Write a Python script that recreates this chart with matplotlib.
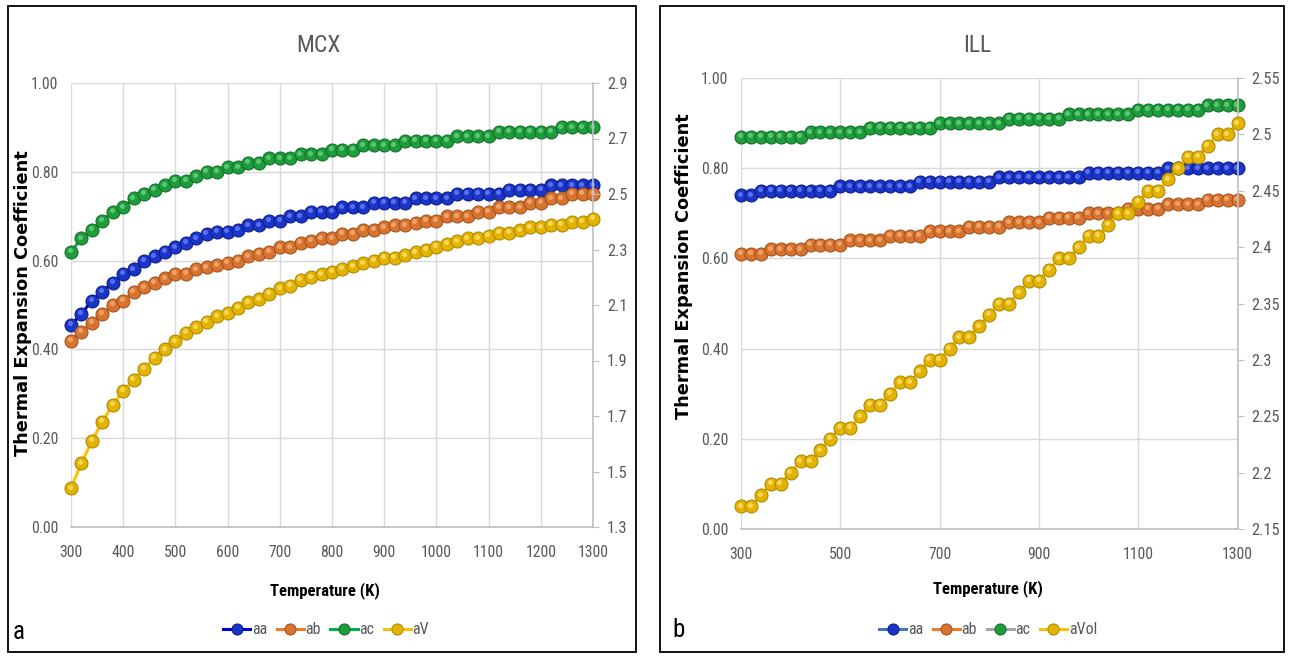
import numpy as np
import matplotlib
matplotlib.use("Agg")
import matplotlib.pyplot as plt
from matplotlib import font_manager
from matplotlib.font_manager import FontProperties
from matplotlib.patches import Rectangle
from matplotlib.lines import Line2D
import matplotlib.transforms as mtransforms

# ---------------- data ----------------
temps = np.arange(300, 1301, 20)

mcx_aa = [0.455, 0.48, 0.51, 0.53, 0.55, 0.57, 0.58, 0.60, 0.61, 0.62,
          0.63, 0.64, 0.65, 0.66, 0.665, 0.665, 0.67, 0.68, 0.68, 0.69,
          0.69, 0.70, 0.70, 0.71, 0.71, 0.71, 0.72, 0.72, 0.72, 0.73,
          0.73, 0.73, 0.73, 0.74, 0.74, 0.74, 0.74, 0.75, 0.75, 0.75,
          0.75, 0.75, 0.76, 0.76, 0.76, 0.76, 0.77, 0.77, 0.77, 0.77, 0.77]
mcx_ab = [0.42, 0.44, 0.46, 0.48, 0.50, 0.51, 0.53, 0.54, 0.55, 0.56,
          0.57, 0.57, 0.58, 0.585, 0.59, 0.595, 0.60, 0.61, 0.615, 0.62,
          0.63, 0.63, 0.64, 0.645, 0.65, 0.65, 0.66, 0.66, 0.67, 0.67,
          0.675, 0.68, 0.68, 0.685, 0.69, 0.69, 0.70, 0.70, 0.70, 0.71,
          0.71, 0.72, 0.72, 0.72, 0.73, 0.73, 0.74, 0.74, 0.75, 0.75, 0.75]
mcx_ac = [0.62, 0.65, 0.67, 0.69, 0.71, 0.72, 0.74, 0.75, 0.76, 0.77,
          0.78, 0.78, 0.79, 0.80, 0.80, 0.81, 0.81, 0.82, 0.82, 0.83,
          0.83, 0.83, 0.84, 0.84, 0.84, 0.85, 0.85, 0.85, 0.86, 0.86,
          0.86, 0.86, 0.87, 0.87, 0.87, 0.87, 0.87, 0.88, 0.88, 0.88,
          0.88, 0.89, 0.89, 0.89, 0.89, 0.89, 0.89, 0.90, 0.90, 0.90, 0.90]
mcx_aV = [1.44, 1.53, 1.61, 1.68, 1.74, 1.79, 1.83, 1.87, 1.91, 1.94,
          1.97, 2.00, 2.02, 2.04, 2.06, 2.07, 2.09, 2.11, 2.12, 2.14,
          2.16, 2.17, 2.19, 2.20, 2.21, 2.22, 2.23, 2.24, 2.25, 2.26,
          2.27, 2.27, 2.28, 2.29, 2.30, 2.31, 2.32, 2.33, 2.34, 2.34,
          2.35, 2.36, 2.36, 2.37, 2.38, 2.38, 2.39, 2.39, 2.40, 2.40, 2.41]

ill_aa = [0.74, 0.74, 0.75, 0.75, 0.75, 0.75, 0.75, 0.75, 0.75, 0.75,
          0.76, 0.76, 0.76, 0.76, 0.76, 0.76, 0.76, 0.76, 0.77, 0.77,
          0.77, 0.77, 0.77, 0.77, 0.77, 0.77, 0.78, 0.78, 0.78, 0.78,
          0.78, 0.78, 0.78, 0.78, 0.78, 0.79, 0.79, 0.79, 0.79, 0.79,
          0.79, 0.79, 0.79, 0.80, 0.80, 0.80, 0.80, 0.80, 0.80, 0.80, 0.80]
ill_ab = [0.61, 0.61, 0.61, 0.62, 0.62, 0.62, 0.62, 0.63, 0.63, 0.63,
          0.63, 0.64, 0.64, 0.64, 0.64, 0.65, 0.65, 0.65, 0.65, 0.66,
          0.66, 0.66, 0.66, 0.67, 0.67, 0.67, 0.67, 0.68, 0.68, 0.68,
          0.68, 0.69, 0.69, 0.69, 0.69, 0.70, 0.70, 0.70, 0.70, 0.71,
          0.71, 0.71, 0.71, 0.72, 0.72, 0.72, 0.72, 0.73, 0.73, 0.73, 0.73]
ill_ac = [0.87, 0.87, 0.87, 0.87, 0.87, 0.87, 0.87, 0.88, 0.88, 0.88,
          0.88, 0.88, 0.88, 0.89, 0.89, 0.89, 0.89, 0.89, 0.89, 0.89,
          0.90, 0.90, 0.90, 0.90, 0.90, 0.90, 0.90, 0.91, 0.91, 0.91,
          0.91, 0.91, 0.91, 0.92, 0.92, 0.92, 0.92, 0.92, 0.92, 0.92,
          0.93, 0.93, 0.93, 0.93, 0.93, 0.93, 0.93, 0.94, 0.94, 0.94, 0.94]
ill_aVol = [2.17, 2.17, 2.18, 2.19, 2.19, 2.20, 2.21, 2.21, 2.22, 2.23,
            2.24, 2.24, 2.25, 2.26, 2.26, 2.27, 2.28, 2.28, 2.29, 2.30,
            2.30, 2.31, 2.32, 2.32, 2.33, 2.34, 2.35, 2.35, 2.36, 2.37,
            2.37, 2.38, 2.39, 2.39, 2.40, 2.41, 2.41, 2.42, 2.43, 2.43,
            2.44, 2.45, 2.45, 2.46, 2.47, 2.48, 2.48, 2.49, 2.50, 2.50, 2.51]

left_ticks = [0.0, 0.2, 0.4, 0.6, 0.8, 1.0]
mcx_right_ticks = [1.3, 1.5, 1.7, 1.9, 2.1, 2.3, 2.5, 2.7, 2.9]
ill_right_ticks = [2.15, 2.2, 2.25, 2.3, 2.35, 2.4, 2.45, 2.5, 2.55]
mcx_xticks = list(range(300, 1301, 100))
ill_xticks = list(range(300, 1301, 200))

# ---------------- fonts ----------------
def _w(f):
    w = f.weight
    if isinstance(w, str):
        return 700 if "bold" in w.lower() else 400
    return int(w)


def find_narrow(bold):
    best = None
    for f in font_manager.fontManager.ttflist:
        nm = f.name.lower()
        st = str(f.stretch).lower()
        is_narrow = ("narrow" in nm or "condensed" in nm or "condensed" in st)
        if not is_narrow or "mono" in nm or ("serif" in nm and "sans" not in nm):
            continue
        if f.style != "normal":
            continue
        w = _w(f)
        if bold and w < 600:
            continue
        if not bold and not (350 <= w <= 500):
            continue
        score = 0
        if "liberation" in nm:
            score = 3
        elif "roboto" in nm:
            score = 2
        elif "dejavu" in nm:
            score = 1
        if best is None or score > best[0]:
            best = (score, f.fname)
    return best[1] if best else None


_reg = find_narrow(False)
_bld = find_narrow(True)


def fp_reg(size):
    if _reg:
        return FontProperties(fname=_reg, size=size)
    return FontProperties(family="Roboto", size=size * 0.92)


def fp_bold(size):
    if _bld:
        return FontProperties(fname=_bld, size=size)
    return FontProperties(family="Roboto", weight="bold", size=size * 0.92)


GRAY = "#595959"
GRID = "#d9d9d9"
AXIS = "#bfbfbf"

# styles: (face, edge, highlight)
BLUE = ("#1b35c8", "#0a1a80", "#6f86ff")
ORANGE = ("#d97430", "#9c4f1a", "#f7b27a")
GREEN = ("#1f9c3c", "#0f6a25", "#6fd884")
YELLOW = ("#e3b300", "#a88400", "#ffe37a")

fig = plt.figure(figsize=(12.9, 6.56), dpi=100)
W, H = 1290, 656


def fx(px):
    return px / W


def fy(py):
    return 1 - py / H


def series(ax, x, y, style, line, label):
    face, edge, hl = style
    ax.plot(x, y, color=line, lw=2.2, zorder=3, clip_on=False)
    ax.plot(x, y, ls="none", marker="o", ms=9.4, mfc=face, mec=edge, mew=0.7,
            zorder=4, clip_on=False)
    off = mtransforms.offset_copy(ax.transData, fig=fig, x=-0.9, y=1.1, units="points")
    ax.plot(x, y, ls="none", marker="o", ms=3.6, mfc=hl, mec="none", alpha=0.75,
            transform=off, zorder=5, clip_on=False)
    return Line2D([], [], color=line, lw=2.2, marker="o", ms=8, mfc=face, mec=edge,
                  mew=0.7, label=label)


def panel(rect, title, xticks, rticks, rfmt, data, rdata, lines, labels, legend_center,
          title_xy, ylabel_xy, xlabel_xy, letter, letter_xy):
    ax = fig.add_axes(rect)
    ax.set_xlim(300, 1300)
    ax.set_ylim(0, 1)
    ax.set_xticks(xticks)
    ax.set_xticklabels([str(v) for v in xticks])
    ax.set_yticks(left_ticks)
    ax.set_yticklabels([f"{v:.2f}" for v in left_ticks])
    ax.grid(True, color=GRID, lw=1.0)
    ax.set_axisbelow(True)
    for s in ["top", "left", "right"]:
        ax.spines[s].set_visible(False)
    ax.spines["bottom"].set_color(AXIS)
    ax.spines["bottom"].set_linewidth(1.2)
    ax.tick_params(axis="y", length=0, labelcolor=GRAY, pad=9)
    ax.tick_params(axis="x", length=0, labelcolor=GRAY, pad=13)
    for t in ax.get_xticklabels() + ax.get_yticklabels():
        t.set_fontproperties(fp_reg(11.3))

    ax2 = ax.twinx()
    ax2.set_ylim(rticks[0], rticks[-1])
    ax2.set_yticks(rticks)
    ax2.set_yticklabels([rfmt(v) for v in rticks])
    for s in ["top", "left", "bottom"]:
        ax2.spines[s].set_visible(False)
    ax2.spines["right"].set_color(AXIS)
    ax2.spines["right"].set_linewidth(1.2)
    ax2.tick_params(axis="y", length=4, color=AXIS, labelcolor=GRAY, pad=6)
    for t in ax2.get_yticklabels():
        t.set_fontproperties(fp_reg(11.8))

    handles = []
    styles = [BLUE, ORANGE, GREEN]
    for y, st, ln, lb in zip(data, styles, lines[:3], labels[:3]):
        handles.append(series(ax, temps, y, st, ln, lb))
    handles.append(series(ax2, temps, rdata, YELLOW, lines[3], labels[3]))

    fig.text(fx(title_xy[0]), fy(title_xy[1]), title, fontproperties=fp_reg(17),
             color=GRAY, ha="center", va="center")
    fig.text(fx(ylabel_xy[0]), fy(ylabel_xy[1]), "Thermal Expansion Coefficient",
             fontsize=12.8, fontweight="bold", family="DejaVu Sans", rotation=90,
             ha="center", va="center", color="black")
    fig.text(fx(xlabel_xy[0]), fy(xlabel_xy[1]), "Temperature (K)",
             fontproperties=fp_bold(12), ha="center", va="center", color="black")
    fig.text(fx(letter_xy[0]), fy(letter_xy[1]), letter, fontproperties=fp_reg(18),
             ha="center", va="center", color="black")
    leg = fig.legend(handles=handles, loc="center", ncol=4, frameon=False,
                     bbox_to_anchor=(fx(legend_center[0]), fy(legend_center[1])),
                     handlelength=1.7, handletextpad=0.1, columnspacing=0.6,
                     prop=fp_reg(11.5))
    for t in leg.get_texts():
        t.set_color(GRAY)
    return ax, ax2


def fmt_general(v):
    return f"{v:.2f}".rstrip("0").rstrip(".")


# panel a
panel([fx(71), fy(527), fx(593) - fx(71), fy(83) - fy(527)], "MCX", mcx_xticks,
      mcx_right_ticks, lambda v: f"{v:.1f}",
      [mcx_aa, mcx_ab, mcx_ac], mcx_aV,
      ["#0000c8", "#ed7d31", "#00b050", "#ffc000"], ["aa", "ab", "ac", "aV"],
      (326, 630), (318, 46), (23, 303), (325, 591), "a", (19, 632))

# panel b
panel([fx(741), fy(529), fx(1237.5) - fx(741), fy(78) - fy(529)], "ILL", ill_xticks,
      ill_right_ticks, fmt_general,
      [ill_aa, ill_ab, ill_ac], ill_aVol,
      ["#4472c4", "#ed7d31", "#a5a5a5", "#ffc000"], ["aa", "ab", "ac", "aVol"],
      (988, 630), (977, 46), (684, 266), (988, 589), "b", (678, 630))

# panel frames
for x0, x1 in [(8, 636), (660, 1284)]:
    fig.add_artist(Rectangle((fx(x0), fy(652)), fx(x1) - fx(x0), fy(6) - fy(652),
                             transform=fig.transFigure, fill=False, ec="black", lw=1.3))

fig.savefig("out.png", dpi=100)
